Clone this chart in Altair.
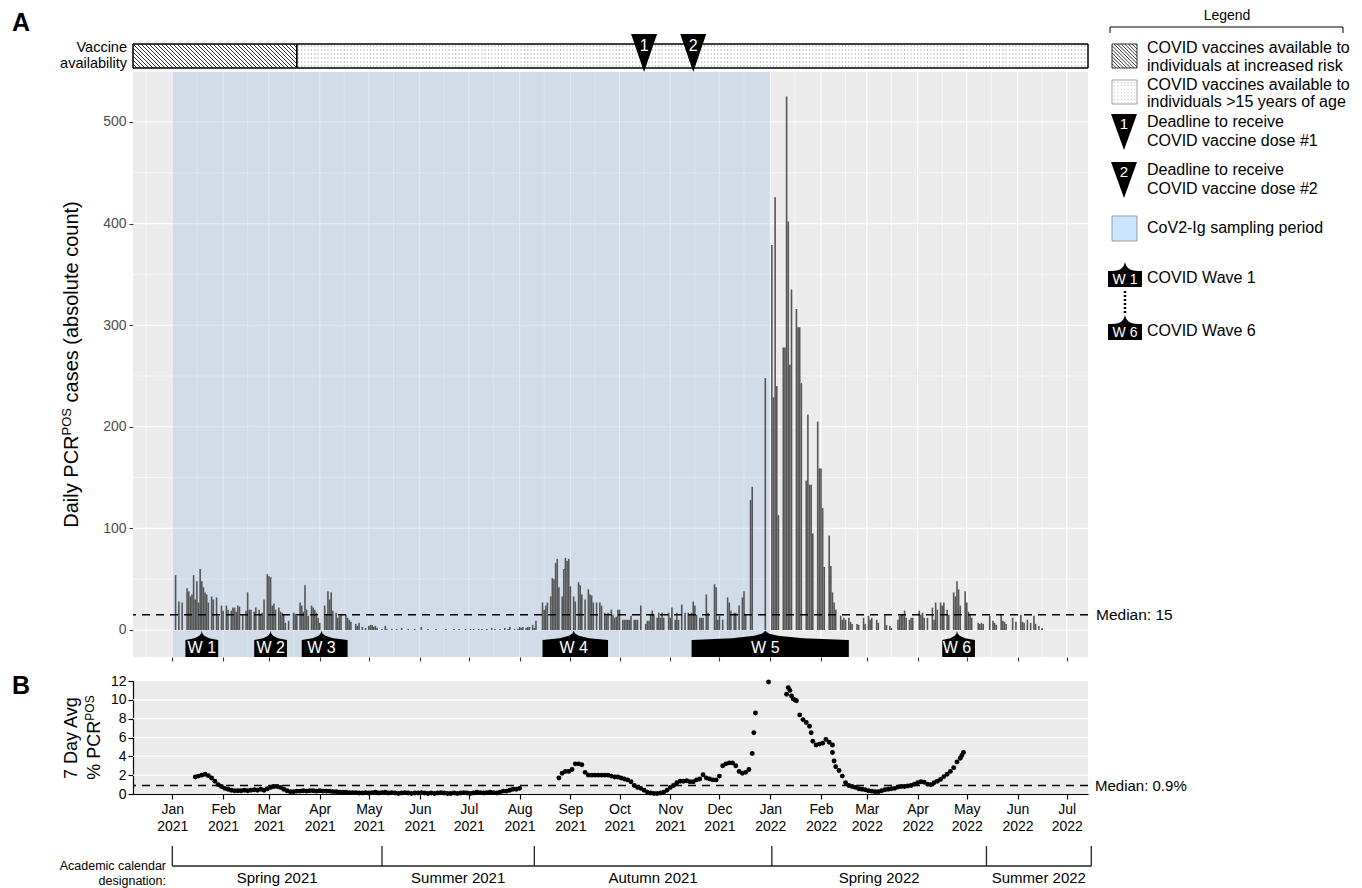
import altair as alt
import pandas as pd

FONT = "Liberation Sans"

# ----------------------------------------------------------------- data
# Daily PCR-positive cases, one list per month (index 0 = 1st day of month)
CASES_2021_01 = [0, 0, 54, 0, 28, 0, 27, 0, 0, 41, 38, 33, 35, 54, 30, 48, 27, 60, 48, 42, 37, 35, 27, 0, 33, 30, 0, 32, 14, 0, 24]
CASES_2021_02 = [19, 0, 24, 20, 0, 19, 22, 22, 18, 24, 23, 0, 15, 0, 19, 37, 20, 20, 0, 18, 22, 0, 20, 16, 17, 30, 0, 55]
CASES_2021_03 = [53, 52, 24, 26, 20, 0, 22, 18, 17, 15, 7, 0, 9, 0, 0, 17, 16, 14, 0, 27, 24, 18, 44, 20, 14, 0, 24, 22, 20, 17, 12]
CASES_2021_04 = [7, 0, 0, 24, 15, 38, 30, 37, 19, 0, 17, 12, 14, 15, 0, 0, 15, 12, 10, 8, 0, 0, 6, 4, 7, 0, 3, 0, 2, 0]
CASES_2021_05 = [4, 5, 5, 3, 4, 2, 0, 0, 1, 0, 4, 1, 0, 0, 1, 0, 0, 1, 0, 0, 2, 0, 0, 0, 1, 0, 0, 0, 1, 0, 0]
CASES_2021_06 = [0, 3, 0, 0, 0, 1, 0, 0, 0, 0, 1, 0, 0, 0, 0, 0, 1, 0, 0, 0, 0, 1, 0, 0, 1, 0, 0, 0, 1, 0]
CASES_2021_07 = [0, 1, 0, 1, 0, 0, 1, 0, 1, 0, 0, 1, 0, 0, 2, 0, 1, 0, 0, 1, 0, 0, 2, 0, 1, 3, 0, 0, 1, 0, 1]
CASES_2021_08 = [3, 2, 3, 0, 2, 3, 3, 0, 5, 2, 9, 0, 0, 0, 27, 20, 24, 27, 0, 33, 51, 50, 66, 70, 42, 0, 33, 60, 71, 68, 70]
CASES_2021_09 = [43, 0, 33, 28, 0, 47, 44, 35, 0, 30, 0, 40, 35, 34, 27, 0, 27, 0, 27, 24, 0, 17, 14, 17, 0, 20, 15, 12, 13, 20]
CASES_2021_10 = [20, 0, 10, 10, 10, 10, 10, 14, 0, 10, 10, 10, 0, 24, 0, 0, 6, 9, 9, 15, 19, 15, 0, 12, 17, 12, 17, 12, 0, 0, 17]
CASES_2021_11 = [12, 22, 0, 10, 17, 10, 0, 25, 0, 17, 0, 17, 15, 17, 28, 24, 15, 0, 12, 12, 12, 0, 35, 17, 0, 0, 0, 45, 42, 10]
CASES_2021_12 = [14, 0, 10, 0, 0, 32, 27, 19, 0, 17, 17, 0, 24, 0, 32, 38, 15, 0, 0, 128, 141, 0, 0, 0, 0, 0, 0, 0, 248, 0, 0]
CASES_2022_01 = [0, 379, 229, 426, 240, 113, 0, 0, 278, 278, 525, 402, 261, 335, 0, 0, 316, 298, 298, 243, 0, 0, 147, 212, 143, 143, 95, 0, 0, 205, 159]
CASES_2022_02 = [159, 120, 62, 0, 0, 93, 63, 37, 27, 20, 0, 0, 14, 10, 12, 10, 0, 12, 8, 6, 0, 0, 6, 5, 0, 0, 12, 6]
CASES_2022_03 = [0, 14, 10, 12, 0, 0, 10, 7, 0, 0, 0, 15, 5, 0, 4, 2, 0, 0, 0, 10, 14, 15, 15, 19, 12, 0, 10, 12, 12, 0, 0]
CASES_2022_04 = [0, 19, 15, 17, 12, 0, 12, 0, 0, 22, 10, 27, 20, 0, 27, 24, 27, 0, 20, 15, 0, 0, 37, 33, 48, 40, 24, 0, 0, 38]
CASES_2022_05 = [27, 18, 15, 12, 0, 0, 0, 7, 6, 7, 6, 0, 0, 0, 14, 0, 9, 7, 5, 0, 0, 15, 9, 8, 6, 0, 0, 0, 12, 0, 8]
CASES_2022_06 = [0, 0, 15, 8, 7, 0, 10, 0, 7, 0, 14, 6, 0, 4, 0, 2]

CASE_MONTHS = [
    ("2021-01-01", CASES_2021_01), ("2021-02-01", CASES_2021_02), ("2021-03-01", CASES_2021_03),
    ("2021-04-01", CASES_2021_04), ("2021-05-01", CASES_2021_05), ("2021-06-01", CASES_2021_06),
    ("2021-07-01", CASES_2021_07), ("2021-08-01", CASES_2021_08), ("2021-09-01", CASES_2021_09),
    ("2021-10-01", CASES_2021_10), ("2021-11-01", CASES_2021_11), ("2021-12-01", CASES_2021_12),
    ("2022-01-01", CASES_2022_01), ("2022-02-01", CASES_2022_02), ("2022-03-01", CASES_2022_03),
    ("2022-04-01", CASES_2022_04), ("2022-05-01", CASES_2022_05), ("2022-06-01", CASES_2022_06),
]

# 7-day average % PCR positive: (first date, days between readings, readings)
PCT_2021_WINTER_SUMMER = [1.8, 1.9, 2.0, 2.1, 1.95, 1.7, 1.35, 1.0, 0.8, 0.6,
                          0.5, 0.4, 0.35, 0.35, 0.35, 0.4, 0.35, 0.4, 0.45, 0.4,
                          0.5, 0.4, 0.55, 0.7, 0.8, 0.8, 0.7, 0.5, 0.35, 0.25,
                          0.25, 0.3, 0.3, 0.35, 0.3, 0.35, 0.35, 0.3, 0.35, 0.3,
                          0.3, 0.3, 0.25, 0.25, 0.2, 0.2, 0.2, 0.15, 0.15, 0.15,
                          0.1, 0.1, 0.15, 0.1, 0.15, 0.2, 0.1, 0.15, 0.2, 0.1,
                          0.15, 0.1, 0.05, 0.1, 0.15, 0.1, 0.05, 0.1, 0.1, 0.15,
                          0.1, 0.05, 0.1, 0.05, 0.1, 0.15, 0.1, 0.05, 0.05, 0.1,
                          0.05, 0.1, 0.15, 0.1, 0.05, 0.1, 0.2, 0.15, 0.1, 0.15,
                          0.2, 0.15, 0.1, 0.2, 0.3, 0.3, 0.4, 0.5, 0.5, 0.6]
PCT_2021_AUTUMN = [1.7, 2.2, 2.4, 2.4, 2.6, 3.2, 3.2, 3.1, 2.3, 2.0,
                   2.0, 2.0, 2.0, 2.0, 2.0, 2.0, 1.9, 1.8, 1.8, 1.7,
                   1.6, 1.5, 1.3, 0.9, 0.7, 0.6, 0.4, 0.2, 0.1, 0.05,
                   0.05, 0.1, 0.2, 0.4, 0.7, 0.9, 1.2, 1.35, 1.35, 1.4,
                   1.3, 1.3, 1.5, 1.6, 2.05, 1.7, 1.6, 1.5, 1.5, 1.9,
                   3.0, 3.2, 3.3, 3.3, 3.0, 2.4, 2.2, 2.3, 2.6, 4.3]
PCT_2022_SPRING = [10.6, 11.0, 10.1, 9.9, 8.4, 7.9, 7.6, 7.2, 5.6, 5.2,
                   5.3, 5.4, 5.8, 5.5, 4.4, 2.9, 2.5, 1.9, 1.2, 0.9,
                   0.8, 0.7, 0.55, 0.5, 0.45, 0.35, 0.3, 0.25, 0.25, 0.35,
                   0.45, 0.5, 0.55, 0.6, 0.75, 0.8, 0.8, 0.85, 0.9, 1.05,
                   1.2, 1.3, 1.25, 1.05, 1.0, 1.2, 1.35, 1.55, 1.85, 2.1,
                   2.4, 2.8, 3.4, 3.8, 4.4]
PCT_BLOCKS = [("2021-01-15", 2, PCT_2021_WINTER_SUMMER),
              ("2021-08-25", 2, PCT_2021_AUTUMN),
              ("2022-01-11", 2, PCT_2022_SPRING)]
PCT_EXTRA_DATES = ["2021-12-22", "2021-12-23", "2021-12-31", "2022-01-12", "2022-01-14",
                   "2022-01-16", "2022-01-26", "2022-02-08", "2022-02-09", "2022-04-28"]
PCT_EXTRA_VALUES = [6.5, 8.6, 11.9, 11.3, 10.4, 10.0, 6.5, 5.2, 3.5, 4.1]

MEDIAN_CASES = 15
MEDIAN_PCT = 0.9

WAVE_LABELS = ["W 1", "W 2", "W 3", "W 4", "W 5", "W 6"]
WAVE_START = ["2021-01-09", "2021-02-20", "2021-03-21", "2021-08-15", "2021-11-14", "2022-04-16"]
WAVE_PEAK = ["2021-01-19", "2021-03-02", "2021-04-02", "2021-09-03", "2021-12-29", "2022-04-25"]
WAVE_END = ["2021-01-29", "2021-03-12", "2021-04-18", "2021-09-24", "2022-02-18", "2022-05-06"]

DEADLINE_LABELS = ["1", "2"]
DEADLINE_DATES = ["2021-10-16", "2021-11-15"]

RISK_PHASE = ("2020-12-08", "2021-03-18")
GENERAL_PHASE = ("2021-03-18", "2022-07-14")
SAMPLING_PERIOD = ("2021-01-01", "2022-01-01")

TERM_BOUNDS = ["2021-01-01", "2021-05-09", "2021-08-10", "2022-01-02", "2022-05-13", "2022-07-16"]
TERM_NAMES = ["Spring 2021", "Summer 2021", "Autumn 2021", "Spring 2022", "Summer 2022"]

CASE_TICKS = [0, 100, 200, 300, 400, 500]
PCT_TICKS = [0, 2, 4, 6, 8, 10, 12]

# ----------------------------------------------------------------- layout
W = 955
HA = 585
HB = 113
HC = 44
X_START = pd.Timestamp("2020-12-08")
X_END = pd.Timestamp("2022-07-14")
YA_MIN, YA_MAX = -26.6, 549.2
BG = "#EBEBEB"
PX_PER_DAY = W / ((X_END - X_START) / pd.Timedelta(days=1))


def dt(s):
    t = pd.Timestamp(s)
    return alt.DateTime(year=t.year, month=t.month, date=t.day)


XSCALE = alt.Scale(domain=[dt(X_START), dt(X_END)], padding=0)
MONTH_TICKS = [dt(d) for d in pd.date_range("2021-01-01", "2022-07-01", freq="MS")]

one = pd.DataFrame({"k": [0]})

AX_A = alt.Axis(values=MONTH_TICKS, labels=False, ticks=True, tickSize=4, tickColor="#333333",
                tickWidth=1.1, domain=False, grid=False, title=None)
AY_A = alt.Axis(values=CASE_TICKS, labelFontSize=14, labelColor="#4D4D4D", labelFont=FONT,
                tickColor="#333333", tickSize=4, tickWidth=1.1, domain=False, grid=False,
                title=None, labelPadding=3)
YSCALE_A = alt.Scale(domain=[YA_MIN, YA_MAX], nice=False, zero=False, padding=0)


def XA(field):
    return alt.X(f"{field}:T", scale=XSCALE, axis=AX_A)


def YA(field):
    return alt.Y(f"{field}:Q", scale=YSCALE_A, axis=AY_A)


ARIAL = {"D": 722, "a": 556, "i": 222, "l": 222, "y": 500, " ": 278, "P": 667, "C": 722,
         "R": 722, "O": 778, "S": 667, "c": 500, "s": 500, "e": 556, "(": 333, "b": 556,
         "o": 556, "u": 556, "t": 278, "n": 556, ")": 333, "%": 889, "7": 556, "A": 667,
         "v": 500, "g": 556}


def tw(s, size):
    return sum(ARIAL.get(ch, 556) for ch in s) * size / 1000.0


def txt(s, x, y, size=15, align="left", color="black", weight="normal", baseline="middle", angle=0):
    return alt.Chart(one).mark_text(text=s, fontSize=size, align=align, baseline=baseline,
                                    color=color, fontWeight=weight, angle=angle,
                                    font=FONT).encode(x=alt.value(x), y=alt.value(y))


def rot_title(pieces, xc, yc):
    total = sum(tw(t, s) for t, s, r in pieces)
    y = yc + total / 2
    out = []
    for t, s, r in pieces:
        lead = tw(t[:len(t) - len(t.lstrip())], s)
        out.append(txt(t.strip(), xc - r, y - lead, size=s, align="left", angle=270))
        y -= tw(t, s)
    return out


# ----------------------------------------------------------------- tables
rows = []
for start, vals in CASE_MONTHS:
    d0 = pd.Timestamp(start)
    for i, v in enumerate(vals):
        if v > 0:
            rows.append({"date": d0 + pd.Timedelta(days=i), "count": v})
cases = pd.DataFrame(rows)

prow = []
for start, step, vals in PCT_BLOCKS:
    d0 = pd.Timestamp(start)
    for i, v in enumerate(vals):
        prow.append({"date": d0 + pd.Timedelta(days=step * i), "pct": v})
for d, v in zip(PCT_EXTRA_DATES, PCT_EXTRA_VALUES):
    prow.append({"date": pd.Timestamp(d), "pct": v})
pct = pd.DataFrame(prow)

grid_major = pd.DataFrame({"date": pd.date_range("2021-01-01", "2022-07-01", freq="MS")})
grid_minor = pd.DataFrame({"date": [d + pd.Timedelta(days=15) for d in pd.date_range("2020-12-01", "2022-06-01", freq="MS")]})
hgrid_major = pd.DataFrame({"v": CASE_TICKS})
hgrid_minor = pd.DataFrame({"v": [t + 50 for t in CASE_TICKS[:-1]]})

WAVE_PROFILE = [(1.0, -9.8), (0.45, -8.2), (0.15, -5.8), (0.04, -3.5), (0.0, -0.8)]
wrows = []
for lab, s, p, e in zip(WAVE_LABELS, WAVE_START, WAVE_PEAK, WAVE_END):
    s, p, e = pd.Timestamp(s), pd.Timestamp(p), pd.Timestamp(e)
    pts = [(p - f * (p - s), h) for f, h in WAVE_PROFILE]
    pts += [(p + f * (e - p), h) for f, h in reversed(WAVE_PROFILE[:-1])]
    for d, h in pts:
        wrows.append({"wave": lab, "date": d.round("s"), "top": h, "bottom": YA_MIN})
waves = pd.DataFrame(wrows)
wave_lab = pd.DataFrame({"label": WAVE_LABELS, "peak": pd.to_datetime(WAVE_PEAK), "ty": -17.3})

phases = pd.DataFrame({"start": pd.to_datetime([RISK_PHASE[0], GENERAL_PHASE[0]]),
                       "end": pd.to_datetime([RISK_PHASE[1], GENERAL_PHASE[1]])})
sampling = pd.DataFrame({"start": [pd.Timestamp(SAMPLING_PERIOD[0])], "end": [pd.Timestamp(SAMPLING_PERIOD[1])]})
deadlines = pd.DataFrame({"label": DEADLINE_LABELS, "date": pd.to_datetime(DEADLINE_DATES)})

# hatch lines for the "increased risk" phase (45 degree, 4 px apart)
STRIP_H = 24.0
h_days = STRIP_H / PX_PER_DAY
h_td = pd.Timedelta(days=h_days)
step_td = pd.Timedelta(days=4.0 / PX_PER_DAY)
r0, r1 = pd.Timestamp(RISK_PHASE[0]), pd.Timestamp(RISK_PHASE[1])
hrows = []
x0 = r0 - h_td
while x0 < r1:
    xa, ya = x0, 1.0
    xb, yb = x0 + h_td, 0.0
    if xa < r0:
        ya = 1.0 - (r0 - x0) / h_td
        xa = r0
    if xb > r1:
        yb = 1.0 - (r1 - x0) / h_td
        xb = r1
    if xb > xa:
        hrows.append({"x": xa.round("s"), "x2": xb.round("s"), "y": ya, "y2": yb})
    x0 = x0 + step_td
hatch = pd.DataFrame(hrows)

g0, g1 = pd.Timestamp(GENERAL_PHASE[0]), pd.Timestamp(GENERAL_PHASE[1])
drows = []
for d in pd.date_range(g0 + pd.Timedelta(days=1), g1 - pd.Timedelta(days=1), freq="2D"):
    for k in range(6):
        drows.append({"date": d, "y": (k + 0.5) / 6})
dots = pd.DataFrame(drows)

# ----------------------------------------------------------------- panel A
TRI_PATH = "M-13,-19L13,-19L0,19Z"
TRI_LEG_PATH = "M-13,-18L13,-18L0,18Z"
WAVE_LEG_PATH = "M-17,-7C-6,-7 -2,-8 0,-16C2,-8 6,-7 17,-7L17,9L-17,9Z"


def hatch_path(wd, ht, step):
    hw, hh = wd / 2, ht / 2
    segs = []
    c = -wd - ht
    while c <= wd + ht:
        xa = max(-hw, -hh + c)
        xb = min(hw, hh + c)
        if xb > xa:
            segs.append(f"M{xa:.2f},{xa - c:.2f}L{xb:.2f},{xb - c:.2f}")
        c += step
    return "".join(segs)


def dots_path(wd, ht, step):
    segs = []
    y = -ht / 2 + 2
    while y < ht / 2 - 1:
        x = -wd / 2 + 2
        while x < wd / 2 - 1:
            segs.append(f"M{x:.1f},{y:.1f}h0.9v0.9h-0.9Z")
            x += step
        y += step
    return "".join(segs)


vgrid_minor = alt.Chart(grid_minor).mark_rule(color="white", strokeWidth=0.6).encode(x=XA("date"))
vgrid_major = alt.Chart(grid_major).mark_rule(color="white", strokeWidth=1.1).encode(x=XA("date"))
hg_minor = alt.Chart(hgrid_minor).mark_rule(color="white", strokeWidth=0.6).encode(y=YA("v"))
hg_major = alt.Chart(hgrid_major).mark_rule(color="white", strokeWidth=1.1).encode(y=YA("v"))
blue = alt.Chart(sampling).mark_rect(color="#9FBFE3", opacity=0.32).encode(x=XA("start"), x2="end")
bars = alt.Chart(cases).mark_bar(width=1.6, color="#555555").encode(x=XA("date"), y=YA("count"), y2=alt.datum(0))
med_a = alt.Chart(pd.DataFrame({"v": [MEDIAN_CASES]}))
med_rule_a = med_a.mark_rule(color="black", strokeDash=[8, 6], strokeWidth=1.5).encode(y=YA("v"))
med_text_a = med_a.mark_text(text=f"Median: {MEDIAN_CASES}", align="left", fontSize=15.5,
                             font=FONT, color="black").encode(x=alt.value(W + 8), y=YA("v"))
wave_area = alt.Chart(waves).mark_area(color="black", opacity=1).encode(
    x=XA("date"), y=YA("top"), y2="bottom", detail="wave:N")
wave_text = alt.Chart(wave_lab).mark_text(color="white", fontSize=16, font=FONT).encode(
    x=XA("peak"), y=YA("ty"), text="label:N")
strip_fill = alt.Chart(phases).mark_rect(fill="white", stroke="black", strokeWidth=1).encode(
    x=XA("start"), x2="end", y=alt.value(-28), y2=alt.value(-4))

main_under = alt.layer(vgrid_minor, vgrid_major, hg_minor, hg_major, blue, bars, med_rule_a,
                       wave_area, wave_text, med_text_a, strip_fill)

YSTRIP = alt.Y("y:Q", scale=alt.Scale(domain=[0, 1], range=[-4, -28]), axis=None)
hatch_layer = alt.Chart(hatch).mark_rule(color="black", strokeWidth=0.8).encode(
    x=XA("x"), x2="x2", y=YSTRIP, y2="y2")
dots_layer = alt.Chart(dots).mark_square(size=1.3, color="#9A9A9A", opacity=1).encode(
    x=XA("date"), y=YSTRIP)
strip_layer = alt.layer(hatch_layer, dots_layer)

strip_outline = alt.Chart(phases).mark_rect(fill="transparent", stroke="black", strokeWidth=1).encode(
    x=XA("start"), x2="end", y=alt.value(-28), y2=alt.value(-4))
tri = alt.Chart(deadlines).mark_point(shape=TRI_PATH, size=4, filled=True, color="black",
                                      opacity=1, strokeWidth=0).encode(x=XA("date"), y=alt.value(-19))
tri_num = alt.Chart(deadlines).mark_text(color="white", fontSize=16, font=FONT).encode(
    x=XA("date"), y=alt.value(-26), text="label:N")

over = [strip_outline, tri, tri_num,
        txt("Vaccine", -6, -24, 14.5, "right"), txt("availability", -6, -8, 14.5, "right"),
        txt("A", -121, -61.5, 25, "left", weight="bold", baseline="top")]
over += rot_title([("Daily PCR", 20, 0), ("POS", 13, 5.5), (" cases (absolute count)", 20, 0)], -61, HA / 2)

# legend (drawn to the right of panel A)
LX = 1014
one_rule = alt.Chart(one)
over += [
    txt("Legend", 1094, -56, 14, "center"),
    one_rule.mark_rule(color="black", strokeWidth=1).encode(x=alt.value(977), x2=alt.value(1210), y=alt.value(-45)),
    one_rule.mark_rule(color="black", strokeWidth=1).encode(x=alt.value(977), y=alt.value(-45), y2=alt.value(-39)),
    one_rule.mark_rule(color="black", strokeWidth=1).encode(x=alt.value(1210), y=alt.value(-45), y2=alt.value(-39)),
    one_rule.mark_rect(fill="white", stroke="black", strokeWidth=0.8).encode(
        x=alt.value(979), x2=alt.value(1004), y=alt.value(-28), y2=alt.value(-4)),
    one_rule.mark_point(shape=hatch_path(25, 24, 3.6), size=4, filled=False, color="black",
                        strokeWidth=0.8, opacity=1).encode(x=alt.value(991.5), y=alt.value(-16)),
    txt("COVID vaccines available to", LX, -24, 16), txt("individuals at increased risk", LX, -6, 16),
    one_rule.mark_rect(fill="white", stroke="#888888", strokeWidth=0.8).encode(
        x=alt.value(979), x2=alt.value(1004), y=alt.value(8), y2=alt.value(32)),
    one_rule.mark_point(shape=dots_path(25, 24, 3.4), size=4, filled=True, color="#A8A8A8",
                        strokeWidth=0, opacity=1).encode(x=alt.value(991.5), y=alt.value(20)),
    txt("COVID vaccines available to", LX, 13, 16), txt("individuals >15 years of age", LX, 30, 16),
    one_rule.mark_point(shape=TRI_LEG_PATH, size=4, filled=True, color="black", strokeWidth=0,
                        opacity=1).encode(x=alt.value(991), y=alt.value(60)),
    txt("1", 991, 52, 15, "center", color="white"),
    txt("Deadline to receive", LX, 50, 16), txt("COVID vaccine dose #1", LX, 69, 16),
    one_rule.mark_point(shape=TRI_LEG_PATH, size=4, filled=True, color="black", strokeWidth=0,
                        opacity=1).encode(x=alt.value(991), y=alt.value(108)),
    txt("2", 991, 100, 15, "center", color="white"),
    txt("Deadline to receive", LX, 98, 16), txt("COVID vaccine dose #2", LX, 117, 16),
    one_rule.mark_rect(fill="#CCE5FF", stroke="#888888", strokeWidth=0.8).encode(
        x=alt.value(979), x2=alt.value(1004), y=alt.value(144), y2=alt.value(169)),
    txt("CoV2-Ig sampling period", LX, 156, 16),
    one_rule.mark_point(shape=WAVE_LEG_PATH, size=4, filled=True, color="black", strokeWidth=0,
                        opacity=1).encode(x=alt.value(992), y=alt.value(206)),
    txt("W 1", 992, 208, 14, "center", color="white"),
    txt("COVID Wave 1", LX, 206, 16),
    one_rule.mark_rule(color="black", strokeWidth=2.5, strokeDash=[2, 2]).encode(
        x=alt.value(992), y=alt.value(219), y2=alt.value(242)),
    one_rule.mark_point(shape=WAVE_LEG_PATH, size=4, filled=True, color="black", strokeWidth=0,
                        opacity=1).encode(x=alt.value(992), y=alt.value(259)),
    txt("W 6", 992, 261, 14, "center", color="white"),
    txt("COVID Wave 6", LX, 259, 16),
]
over_layer = alt.layer(*over)

panelA = alt.layer(main_under, strip_layer, over_layer).resolve_scale(y="independent").properties(
    width=W, height=HA, view=alt.ViewBackground(fill=BG, strokeWidth=0))

# ----------------------------------------------------------------- panel B
AX_B = alt.Axis(values=MONTH_TICKS, labelExpr="[timeFormat(datum.value, '%b'), timeFormat(datum.value, '%Y')]",
                labelFontSize=14, labelColor="black", labelFont=FONT, labelLineHeight=17, labelPadding=3,
                labelOverlap=False, domainColor="black", domainWidth=1.2, tickColor="black",
                tickSize=5, tickWidth=1.2, grid=False, title=None)
AY_B = alt.Axis(values=PCT_TICKS, labelFontSize=14, labelColor="black", labelFont=FONT,
                domainColor="black", domainWidth=1.2, tickColor="black", tickSize=5,
                tickWidth=1.2, grid=False, title=None, labelPadding=2)
YSCALE_B = alt.Scale(domain=[0, 12], nice=False, zero=False, padding=0)


def XB(field):
    return alt.X(f"{field}:T", scale=XSCALE, axis=AX_B)


def YB(field):
    return alt.Y(f"{field}:Q", scale=YSCALE_B, axis=AY_B)


hgrid_b = alt.Chart(pd.DataFrame({"v": PCT_TICKS[1:-1]})).mark_rule(color="white", strokeWidth=1.2).encode(y=YB("v"))
med_b = alt.Chart(pd.DataFrame({"v": [MEDIAN_PCT]}))
med_rule_b = med_b.mark_rule(color="black", strokeDash=[8, 6], strokeWidth=1.5).encode(y=YB("v"))
med_text_b = med_b.mark_text(text=f"Median: {MEDIAN_PCT}%", align="left", fontSize=15,
                             font=FONT, color="black").encode(x=alt.value(W + 7), y=YB("v"))
pts = alt.Chart(pct).mark_circle(size=24, color="black", opacity=1).encode(x=XB("date"), y=YB("pct"))

b_layers = [hgrid_b, med_rule_b, pts, med_text_b,
            txt("B", -121, -7, 25, "left", weight="bold", baseline="top")]
b_layers += rot_title([("7 Day Avg", 18, 0)], -61, HB / 2)
b_layers += rot_title([("% PCR", 18, 0), ("POS", 12, 5)], -38, HB / 2)
panelB = alt.layer(*b_layers).properties(width=W, height=HB, view=alt.ViewBackground(fill=BG, strokeWidth=0))

# ----------------------------------------------------------------- academic calendar
XC = lambda f: alt.X(f"{f}:T", scale=XSCALE, axis=None)
tb = pd.to_datetime(TERM_BOUNDS)
bounds_df = pd.DataFrame({"date": tb})
terms_df = pd.DataFrame({"name": TERM_NAMES, "mid": [(tb[i] + (tb[i + 1] - tb[i]) / 2).round("s") for i in range(len(TERM_NAMES))]})
span_df = pd.DataFrame({"start": [tb[0]], "end": [tb[-1]]})

cal = alt.layer(
    alt.Chart(bounds_df).mark_rule(color="#222222", strokeWidth=1.3).encode(x=XC("date"), y=alt.value(0), y2=alt.value(20)),
    alt.Chart(span_df).mark_rule(color="#222222", strokeWidth=1.3).encode(x=XC("start"), x2="end", y=alt.value(20)),
    alt.Chart(terms_df).mark_text(fontSize=15, font=FONT, color="black").encode(x=XC("mid"), y=alt.value(32), text="name:N"),
    txt("Academic calendar", 33, 20, 12.5, "right"),
    txt("designation:", 33, 35, 12.5, "right"),
).properties(width=W, height=HC)

chart = alt.vconcat(panelA, panelB, cal, spacing=12).properties(
    padding={"left": 12, "top": 9, "right": 5, "bottom": 0}, background="white"
).configure(font=FONT).configure_view(strokeWidth=0)

chart.save("out.html", embed_options={"renderer": "svg", "actions": False})
